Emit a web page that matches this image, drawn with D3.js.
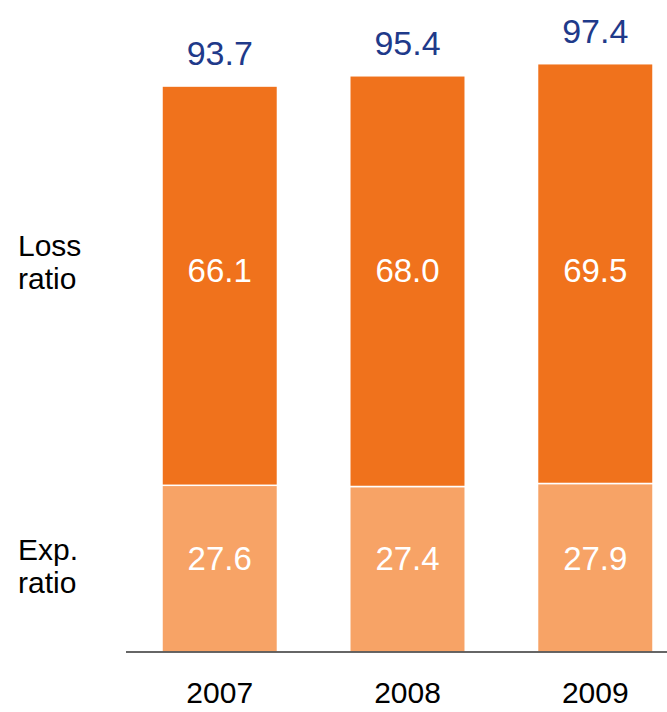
<!DOCTYPE html>
<html>
<head>
<meta charset="utf-8">
<script src="https://cdn.jsdelivr.net/npm/d3@7"></script>
<style>
  html, body { margin: 0; padding: 0; background: #fff; }
  svg { display: block; }
  text { font-family: "Liberation Sans", Arial, Helvetica, sans-serif; }
</style>
</head>
<body>
<svg id="chart" width="667" height="712"></svg>
<script>
// Combined ratio by year: expense ratio + loss ratio
const years = ["2007", "2008", "2009"];
const expRatio = [27.6, 27.4, 27.9];
const lossRatio = [66.1, 68.0, 69.5];
const totals = [93.7, 95.4, 97.4];
const rowLabels = [["Loss", "ratio"], ["Exp.", "ratio"]];

const svg = d3.select("#chart");
const baseY = 652;

const x = d3.scaleBand()
  .domain(years)
  .range([162, 653])
  .paddingInner(0.385)
  .paddingOuter(0);

const y = d3.scaleLinear()
  .domain([0, 100])
  .range([baseY, baseY - 604]);

const rows = years.map((yr, i) => ({ year: yr, exp: expRatio[i], loss: lossRatio[i], total: totals[i] }));
const stack = d3.stack().keys(["exp", "loss"])(rows);
const colors = { exp: "#F7A366", loss: "#F0721C" };

const g = svg.append("g");

stack.forEach(layer => {
  g.selectAll(null)
    .data(layer)
    .enter()
    .append("rect")
    .attr("x", d => x(d.data.year))
    .attr("width", x.bandwidth())
    .attr("y", d => y(d[1]))
    .attr("height", d => y(d[0]) - y(d[1]))
    .attr("fill", colors[layer.key])
    .attr("stroke", "#fff")
    .attr("stroke-width", 1.5);
});

// Baseline
svg.append("line")
  .attr("x1", 126).attr("x2", 667)
  .attr("y1", baseY).attr("y2", baseY)
  .attr("stroke", "#333").attr("stroke-width", 1.5);

// Year labels
svg.selectAll(".year")
  .data(years)
  .enter()
  .append("text")
  .attr("x", d => x(d) + x.bandwidth() / 2)
  .attr("y", 703)
  .attr("text-anchor", "middle")
  .attr("font-size", 30)
  .attr("fill", "#000")
  .text(d => d);

// Totals above the bars
svg.selectAll(".total")
  .data(rows)
  .enter()
  .append("text")
  .attr("x", d => x(d.year) + x.bandwidth() / 2)
  .attr("y", d => y(d.total) - 21)
  .attr("text-anchor", "middle")
  .attr("font-size", 34)
  .attr("fill", "#1F3A8A")
  .text(d => d.total.toFixed(1));

// Segment values
svg.selectAll(".lossVal")
  .data(rows)
  .enter()
  .append("text")
  .attr("x", d => x(d.year) + x.bandwidth() / 2)
  .attr("y", 282)
  .attr("text-anchor", "middle")
  .attr("font-size", 33)
  .attr("fill", "#fff")
  .text(d => d.loss.toFixed(1));

svg.selectAll(".expVal")
  .data(rows)
  .enter()
  .append("text")
  .attr("x", d => x(d.year) + x.bandwidth() / 2)
  .attr("y", 570)
  .attr("text-anchor", "middle")
  .attr("font-size", 33)
  .attr("fill", "#fff")
  .text(d => d.exp.toFixed(1));

// Row labels on the left
const rowY = [256, 560];
rowLabels.forEach((lines, i) => {
  const t = svg.append("text")
    .attr("x", 18)
    .attr("y", rowY[i])
    .attr("font-size", 30)
    .attr("fill", "#000");
  lines.forEach((ln, j) => {
    t.append("tspan").attr("x", 18).attr("dy", j === 0 ? 0 : 33).text(ln);
  });
});
</script>
</body>
</html>
